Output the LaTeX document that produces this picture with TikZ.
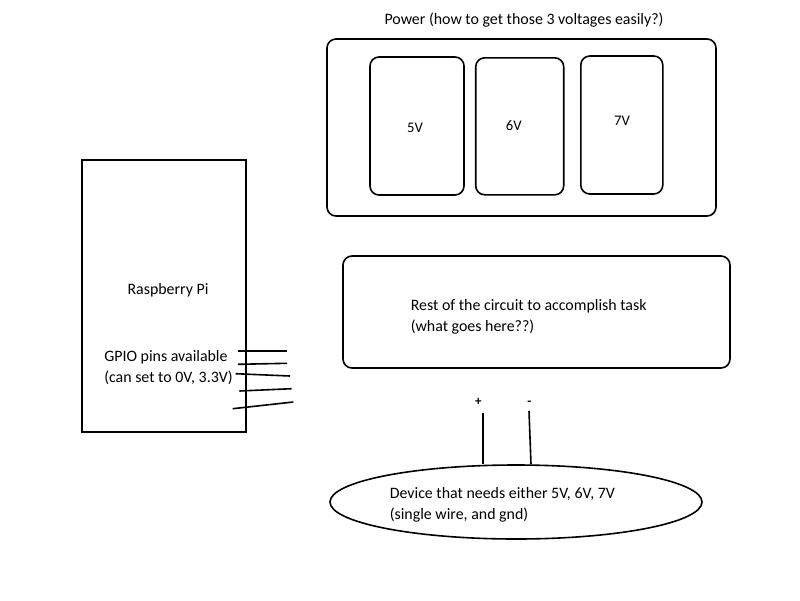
\documentclass[tikz,border=0pt]{standalone}
\usepackage{fontspec}
\setmainfont{Carlito}
\usetikzlibrary{shapes.geometric}

\begin{document}
\begin{tikzpicture}[x=1pt, y=-1pt, font=\fontsize{15.9}{20.8}\selectfont,
  line width=1.6pt,
  blk/.style args={#1x#2}{draw, rounded corners=9pt, minimum width=#1pt,
                          minimum height=#2pt, inner sep=0pt},
  lab/.style={align=left, anchor=west, inner sep=0pt},
  volt/.style={inner sep=0pt, font=\fontsize{14.67}{17}\selectfont},
  sign/.style={inner sep=1pt, font=\fontsize{13}{15}\selectfont\bfseries},
  pin/.style={line width=1.6pt}]

\useasboundingbox (0,0) rectangle (800,600);

% raspberry pi
\node[blk=164x272, rounded corners=0pt] (pi) at (164,296) {};
\node[inner sep=0pt] (pitxt) at (168,290) {Raspberry Pi};
\node[lab] (gpio) at (103.5,367.5) {GPIO pins available\\(can set to 0V, 3.3V)};
\foreach \a/\b in {{237.7,351}/{286.7,351}, {238,364.3}/{287,363.3},
                   {235.7,373.7}/{290,376}, {239.3,391}/{291.7,388.7},
                   {232.7,408.7}/{293.3,402}}
  \draw[pin] (\a) -- (\b);

% power
\node[inner sep=0pt] (title) at (524,20) {Power (how to get those 3 voltages easily?)};
\node[blk=389x177] (power) at (521.5,127.5) {};
\node[blk=94x138] (v5) at (417,126) {};
\node[blk=88x137] (v6) at (519.7,126.3) {};
\node[blk=82x138] (v7) at (621.8,125) {};
\node[volt] (l5) at (415,128) {5V};
\node[volt] (l6) at (513.7,126) {6V};
\node[volt] (l7) at (622,121) {7V};

% rest of the circuit
\node[blk=387x112] (rest) at (536.5,312) {};
\node[lab] (resttxt) at (410,316.5) {Rest of the circuit to accomplish task\\(what goes here??)};

% device
\node[draw, ellipse, minimum width=372pt, minimum height=74pt] (dev) at (516,502) {};
\node[lab] (devtxt) at (389,505) {Device that needs either 5V, 6V, 7V\\(single wire, and gnd)};
\node[sign] (plus) at (478.3,401.7) {+};
\node[sign] (minus) at (529.3,403.3) {-};
\coordinate (ptop) at (483,413);
\coordinate (mtop) at (529,411);
\draw (ptop) -- (ptop |- dev.north);
\draw (mtop) -- ([xshift=2pt]mtop |- dev.north);

\end{tikzpicture}
\end{document}
